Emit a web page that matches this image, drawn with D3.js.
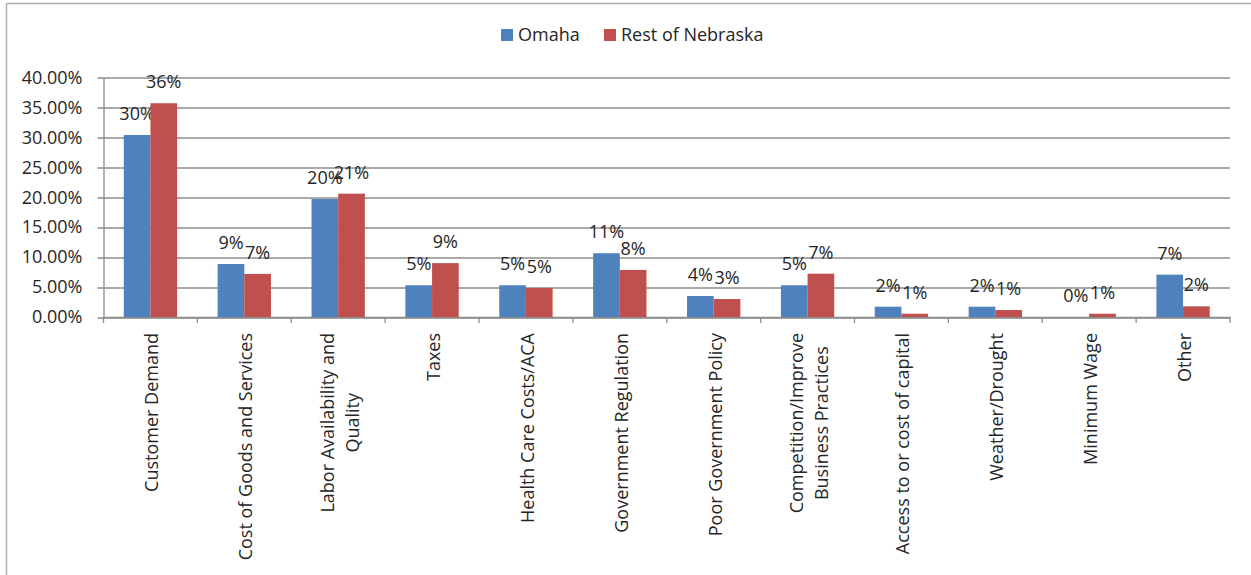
<!DOCTYPE html>
<html>
<head>
<meta charset="utf-8">
<script src="https://cdn.jsdelivr.net/npm/d3@7"></script>
<style>
  body { margin: 0; background: #fff; }
  text { font-family: "Open Sans", sans-serif; fill: #262626; }
</style>
</head>
<body>
<div id="plotDiv"></div>
<script>
// categories (line breaks as in the original chart)
var categories = [
    ["Customer Demand"],
    ["Cost of Goods and Services"],
    ["Labor Availability and", "Quality"],
    ["Taxes"],
    ["Health Care Costs/ACA"],
    ["Government Regulation"],
    ["Poor Government Policy"],
    ["Competition/Improve", "Business Practices"],
    ["Access to or cost of capital"],
    ["Weather/Drought"],
    ["Minimum Wage"],
    ["Other"]
];
var seriesNames = ["Omaha", "Rest of Nebraska"];
var omaha = [0.304, 0.0885, 0.197, 0.053, 0.053, 0.1065, 0.035, 0.053, 0.0172, 0.0172, 0.0, 0.0707];
var restOfNebraska = [0.357, 0.072, 0.206, 0.090, 0.0485, 0.0786, 0.030, 0.0724, 0.0055, 0.0117, 0.0055, 0.0178];
var yTicks = [0, 0.05, 0.10, 0.15, 0.20, 0.25, 0.30, 0.35, 0.40];
var colors = ["#4F81BD", "#C0504D"];

var width = 1251, height = 575;
var margin = {top: 77.5, left: 103.5, right: 21, bottom: 258};
var plotW = width - margin.left - margin.right,
    plotH = height - margin.top - margin.bottom;

var svg = d3.select("#plotDiv")
    .append("svg")
        .attr("width", width)
        .attr("height", height);

// outer chart border (left + top only are visible)
svg.append("path")
    .attr("d", "M6.5,600 V3.5 H1260")
    .attr("fill", "none")
    .attr("stroke", "#b0b0b0")
    .attr("stroke-width", 1.5);

var g = svg.append("g")
    .attr("transform", "translate(" + margin.left + "," + margin.top + ")");

var idx = d3.range(categories.length);
var x = d3.scaleBand()
    .domain(idx)
    .range([0, plotW])
    .paddingInner(0)
    .paddingOuter(0);
var x1 = d3.scaleBand()
    .domain([0, 1])
    .range([0, x.bandwidth()])
    .paddingInner(0)
    .paddingOuter(0.76);
var y = d3.scaleLinear()
    .domain([0, 0.40])
    .range([plotH, 0]);

// gridlines
g.append("g")
    .selectAll("line")
    .data(yTicks)
    .enter().append("line")
        .attr("x1", -6)
        .attr("x2", plotW)
        .attr("y1", function(d) { return Math.round(y(d)) + 0.5; })
        .attr("y2", function(d) { return Math.round(y(d)) + 0.5; })
        .attr("stroke", "#8c8c8c")
        .attr("stroke-width", 1.3);

// y axis
var yAxis = g.append("g")
    .call(d3.axisLeft(y).tickValues(yTicks).tickSize(0).tickPadding(21)
        .tickFormat(function(d) { return d3.format(".2f")(d * 100) + "%"; }));
yAxis.select(".domain").attr("stroke", "#8c8c8c").attr("stroke-width", 1.3);
yAxis.selectAll("text")
    .style("font-size", "18px")
    .style("font-family", "Open Sans, sans-serif")
    .attr("fill", "#262626");

// x axis baseline + ticks
var xAxis = g.append("g")
    .attr("transform", "translate(0," + plotH + ")")
    .call(d3.axisBottom(x).tickSize(0).tickFormat(""));
xAxis.select(".domain").attr("stroke", "#8c8c8c").attr("stroke-width", 1.3);
g.append("g")
    .selectAll("line")
    .data(d3.range(categories.length + 1))
    .enter().append("line")
        .attr("x1", function(d) { return d * x.step(); })
        .attr("x2", function(d) { return d * x.step(); })
        .attr("y1", plotH)
        .attr("y2", plotH + 6)
        .attr("stroke", "#8c8c8c")
        .attr("stroke-width", 1.3);

// bars
var series = [omaha, restOfNebraska];
series.forEach(function(values, s) {
    g.append("g")
        .selectAll("rect")
        .data(values)
        .enter().append("rect")
            .attr("x", function(d, i) { return x(i) + x1(s); })
            .attr("y", function(d) { return y(d); })
            .attr("width", x1.bandwidth())
            .attr("height", function(d) { return plotH - y(d); })
            .attr("fill", colors[s]);

    g.append("g")
        .selectAll("text")
        .data(values)
        .enter().append("text")
            .attr("x", function(d, i) { return x(i) + x1(s) + x1.bandwidth() / 2; })
            .attr("y", function(d) { return y(d) - 15; })
            .attr("text-anchor", "middle")
            .style("font-size", "18px")
            .text(function(d) { return Math.round(d * 100) + "%"; });
});

// category labels, rotated, top-aligned, lines centred on each other
var labelTop = plotH + 16;
var lineH = 25;
idx.forEach(function(i) {
    var lines = categories[i];
    var cx = x(i) + x.bandwidth() / 2;
    var lab = g.append("g");
    var texts = lines.map(function(t, k) {
        return lab.append("text")
            .attr("text-anchor", "middle")
            .attr("dy", "0.35em")
            .style("font-size", "18px")
            .text(t);
    });
    var maxW = d3.max(texts, function(t) { return t.node().getComputedTextLength(); });
    texts.forEach(function(t, k) {
        var off = (k - (lines.length - 1) / 2) * lineH + 1.5;
        t.attr("transform", "translate(" + (cx + off) + "," + (labelTop + maxW / 2) + ") rotate(-90)");
    });
});

// legend
var legend = svg.append("g");
var legendX = [501, 604];
seriesNames.forEach(function(name, s) {
    legend.append("rect")
        .attr("x", legendX[s])
        .attr("y", 29)
        .attr("width", 12)
        .attr("height", 12)
        .attr("fill", colors[s]);
    legend.append("text")
        .attr("x", legendX[s] + 17)
        .attr("y", 35)
        .attr("dy", "0.35em")
        .style("font-size", "18px")
        .text(name);
});
</script>
</body>
</html>
